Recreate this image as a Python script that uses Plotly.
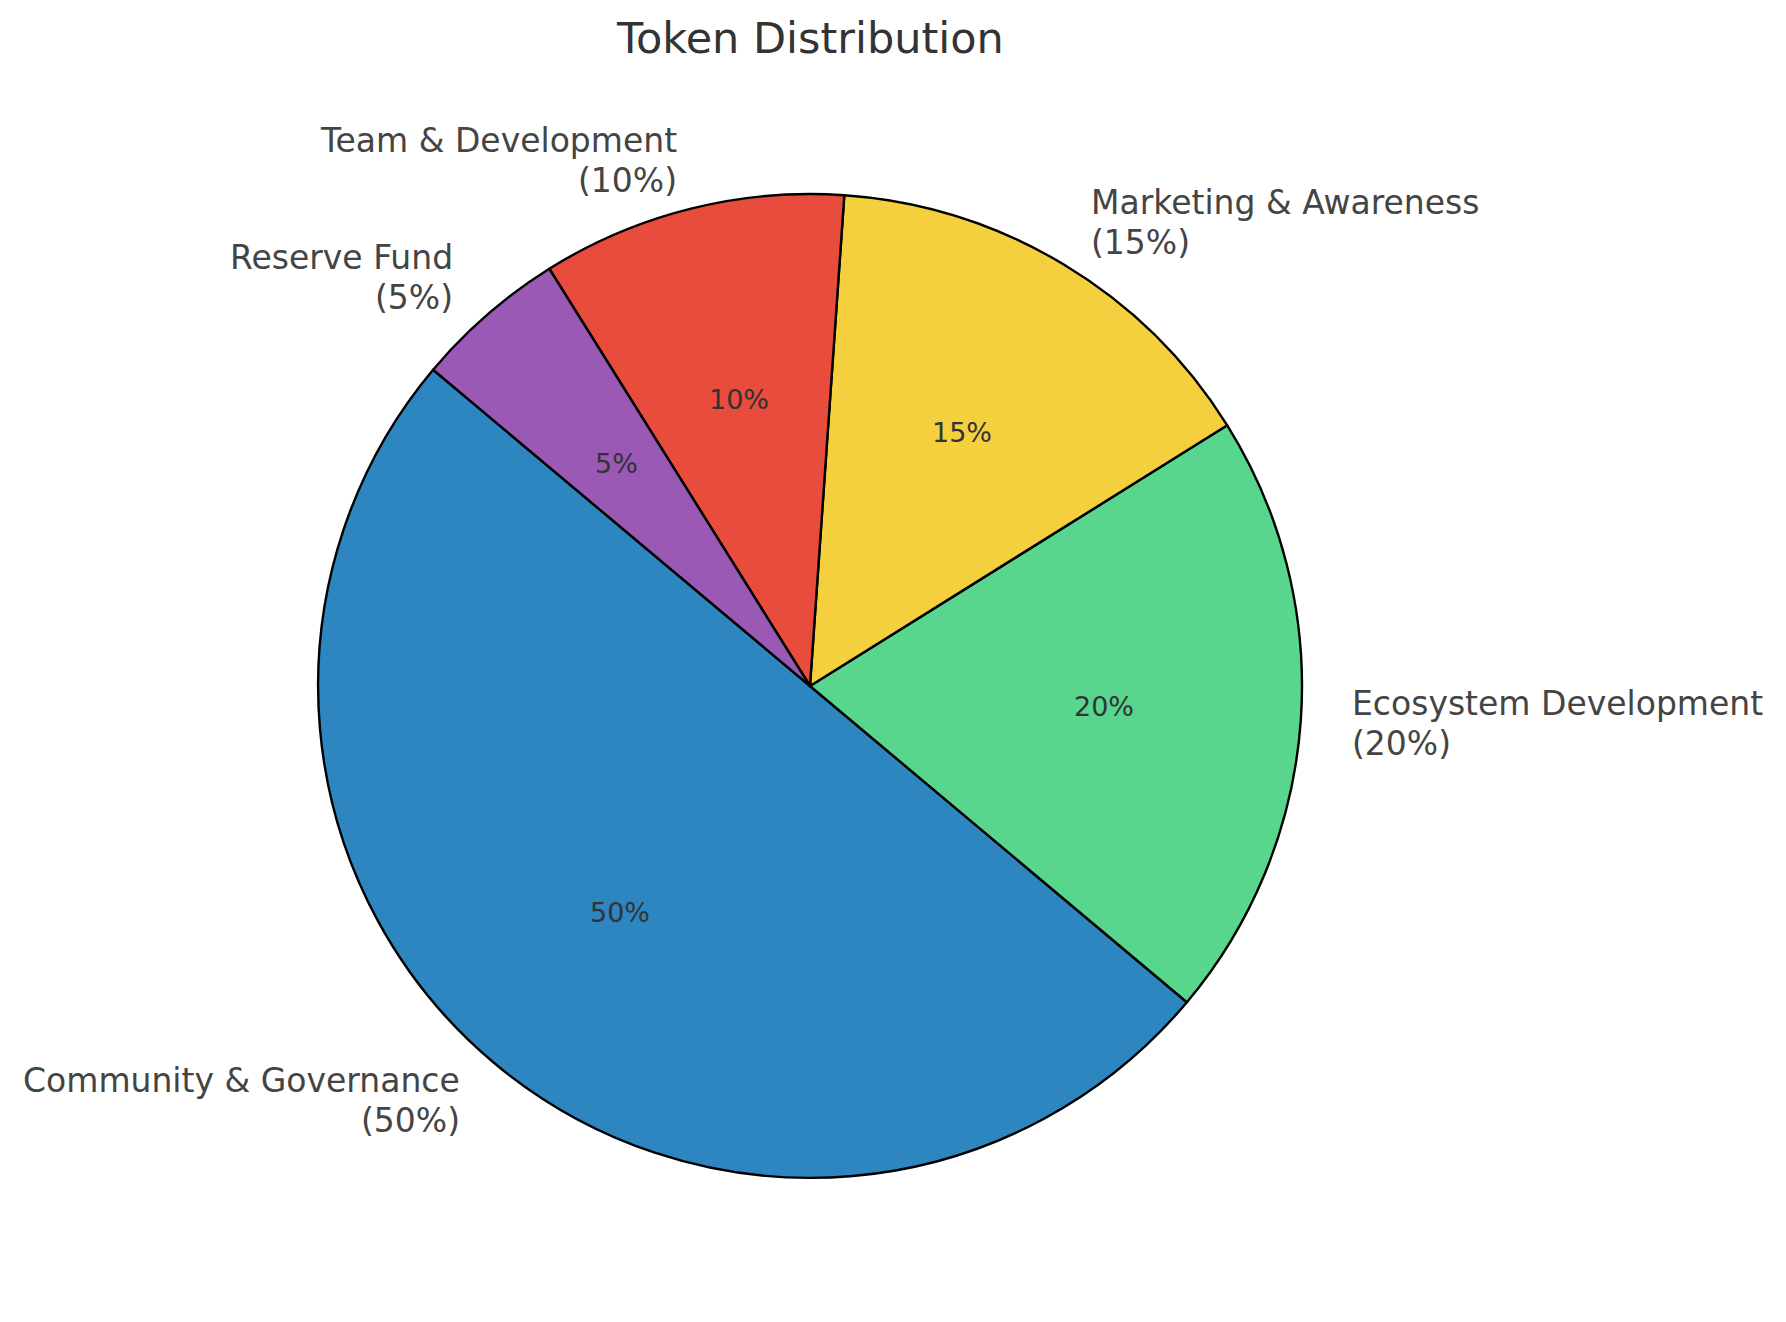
import math
import plotly.graph_objects as go

labels = ["Community & Governance", "Ecosystem Development", "Marketing & Awareness",
          "Team & Development", "Reserve Fund"]
values = [50, 20, 15, 10, 5]
colors = ["#2E86C1", "#58D68D", "#F4D03F", "#E74C3C", "#9B59B6"]
title = "Token Distribution"

W, H = 1786, 1322
OFF = 8                        # default page body margin
CX, CY, R = 810 - OFF, 686 - OFF, 492   # pie centre and radius in figure pixels
START = 140                    # start angle (deg, counterclockwise from 3 o'clock)
LABEL_SIZE = 33
LINE_GAP = 40                  # distance between the two lines of an outer label

fig = go.Figure()
fig.add_trace(go.Pie(
    labels=labels, values=values, sort=False, direction="counterclockwise",
    rotation=START - 10, textinfo="none", hoverinfo="label+percent",
    marker=dict(colors=colors, line=dict(color="black", width=2.4)),
    domain=dict(x=[(CX - R) / W, (CX + R) / W], y=[(H - CY - R) / H, (H - CY + R) / H]),
    showlegend=False,
))

total = sum(values)
ang = START
for lab, v in zip(labels, values):
    span = 360 * v / total
    mid = math.radians(ang + span / 2)
    ang += span
    pct = f"{round(100 * v / total)}%"
    # outer label at 1.1 r (two lines centred on the label point)
    lx = CX + 1.1 * R * math.cos(mid)
    ly = CY - 1.1 * R * math.sin(mid)
    right = math.cos(mid) > 0
    for line, dy in ((lab, -LINE_GAP / 2), (f"({pct})", LINE_GAP / 2)):
        fig.add_annotation(
            x=lx / W, y=1 - (ly + dy) / H, xref="paper", yref="paper",
            text=line, showarrow=False,
            xanchor="left" if right else "right", yanchor="middle",
            font=dict(family="DejaVu Sans", size=LABEL_SIZE, color="#444444"),
        )
    # percentage at 0.6 r
    px = CX + 0.6 * R * math.cos(mid)
    py = CY - 0.6 * R * math.sin(mid)
    fig.add_annotation(
        x=px / W, y=1 - py / H, xref="paper", yref="paper",
        text=pct, showarrow=False, xanchor="center", yanchor="middle",
        font=dict(family="DejaVu Sans", size=27, color="#333333"),
    )

fig.add_annotation(
    x=CX / W, y=1 - (38 - OFF) / H, xref="paper", yref="paper", text=title, showarrow=False,
    xanchor="center", yanchor="middle",
    font=dict(family="DejaVu Sans", size=43, color="#333333"),
)

fig.update_layout(
    width=W, height=H, margin=dict(l=0, r=0, t=0, b=0),
    paper_bgcolor="white", plot_bgcolor="white",
)
fig.write_html("out.html")
